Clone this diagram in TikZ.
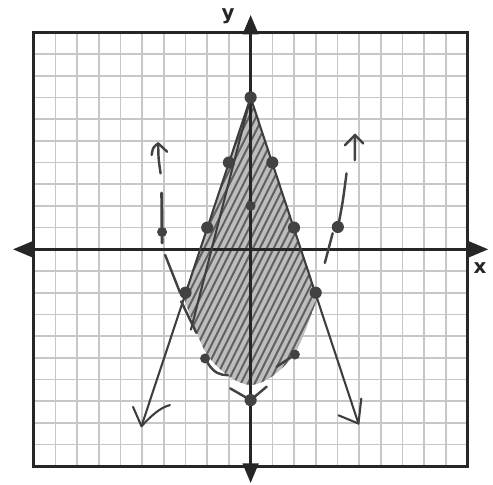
\documentclass[tikz,border=0pt]{standalone}
\usepackage{fontspec}
\setsansfont{DejaVu Sans}
\usetikzlibrary{arrows.meta}
\begin{document}
\begin{tikzpicture}[x=1cm,y=1cm,
  gridline/.style={line width=2.1pt, draw=black!22},
  frameline/.style={line width=3.2pt, draw=black!85},
  axisline/.style={line width=3.3pt, draw=black!85, {Triangle[length=0.9cm,width=0.72cm]}-{Triangle[length=0.9cm,width=0.72cm]}},
  graphline/.style={line width=2.7pt, draw=black!76, line cap=round, line join=round},
  pen/.style={line width=3.2pt, draw=black!74, line cap=round, line join=round},
  dot/.style={circle, fill=black!74, inner sep=0pt, minimum size=0.56cm},
  smalldot/.style={circle, fill=black!74, inner sep=0pt, minimum size=0.46cm},
  lab/.style={font=\sffamily\bfseries\fontsize{26}{30}\selectfont, text=black!85, inner sep=0pt}]
\useasboundingbox (-11.55,-10.86) rectangle (11.17,11.49);
\fill[white] (-11.55,-10.86) rectangle (11.17,11.49);
% grid
\foreach \i in {-9,...,9} {
  \draw[gridline] (\i,-10) -- (\i,10);
  \draw[gridline] (-10,\i) -- (10,\i);
}
% shaded region
\begin{scope}
  \clip (0,7) -- plot[smooth] coordinates {(3.08,-2.24) (2.1,-4.7) (1,-5.85) (0,-6.25) (-1,-5.85) (-2.1,-4.7) (-3.08,-2.24)} -- cycle;
  \fill[black!26] (-4,-8) rectangle (4,8);
  \foreach \k in {-14,-13.68,...,14} \draw[line width=2.6pt, black!62] (\k-3.6,-7.2) -- (\k+3.6,7.2);
\end{scope}
\draw[frameline] (-10,-10) rectangle (10,10);
% axes
\coordinate (xl) at (-10.95,0);
\coordinate (xr) at (10.95,0);
\coordinate (yb) at (0,-10.77);
\coordinate (yt) at (0,10.8);
\draw[axisline] (xl) -- (xr);
\draw[axisline] (yb) -- (yt);
\node[lab] (ylab) at (-1.04,10.72) {y};
\node[lab] (xlab) at (10.57,-0.86) {x};
% absolute value graph
\coordinate (A) at (0,7);
\coordinate (LE) at (-5.03,-8.15);
\coordinate (RE) at (4.97,-8.03);
\coordinate (LI) at (-2.75,-3.7);
\draw[graphline] (A) -- (LE);
\draw[graphline] (A) -- (RE);
\draw[graphline] (A) -- (LI);
\draw[graphline] (-5.42,-7.26) -- (LE) .. controls (-4.6,-7.7) and (-4.2,-7.3) .. (-3.72,-7.18);
\draw[graphline] (4.05,-7.65) -- (RE) -- (5.1,-6.88);
\node[dot] (a0) at (A) {};
\node[dot] (l1) at (-1,4) {};
\node[dot] (l2) at (-2,1) {};
\node[dot] (l3) at (-3,-2) {};
\node[dot] (r1) at (1,4) {};
\node[dot] (r2) at (2,1) {};
\node[dot] (r3) at (3,-2) {};
\node[smalldot] (y2) at (0,2) {};
% parabola (dashed, hand drawn)
\draw[pen] (-4.56,4.35) .. controls (-4.5,4.7) .. (-4.26,4.88) -- (-3.85,4.5);
\draw[pen] (-4.26,4.88) .. controls (-4.25,4.2) .. (-4.15,3.5);
\draw[pen, line width=3.8pt] (-4.1,2.6) -- (-4.08,0.29);
\node[smalldot] (p1) at (-4.08,0.8) {};
\draw[pen] (-3.94,-0.26) -- (-3.25,-2.0);
\draw[pen] (-3.2,-2.4) -- (-2.5,-3.85);
\node[smalldot] (p2) at (-2.1,-5.03) {};
\draw[pen] (p2) .. controls (-1.7,-5.7) and (-1.4,-5.8) .. (-1.05,-5.8);
\draw[pen] (-0.94,-6.41) -- (0,-6.95) -- (0.74,-6.33);
\node[dot] (v) at (0,-6.95) {};
\node[smalldot] (p3) at (2.04,-4.85) {};
\draw[pen] (p3) -- (1.2,-5.41);
\draw[pen] (3.42,-0.63) -- (3.78,0.74);
\node[dot] (p4) at (4.02,1.03) {};
\draw[pen] (4.08,1.3) .. controls (4.25,2.2) .. (4.42,3.5);
\draw[pen] (4.8,4.11) -- (4.81,5.27);
\draw[pen] (4.35,4.8) -- (4.81,5.27) -- (5.19,4.88);
\end{tikzpicture}
\end{document}
